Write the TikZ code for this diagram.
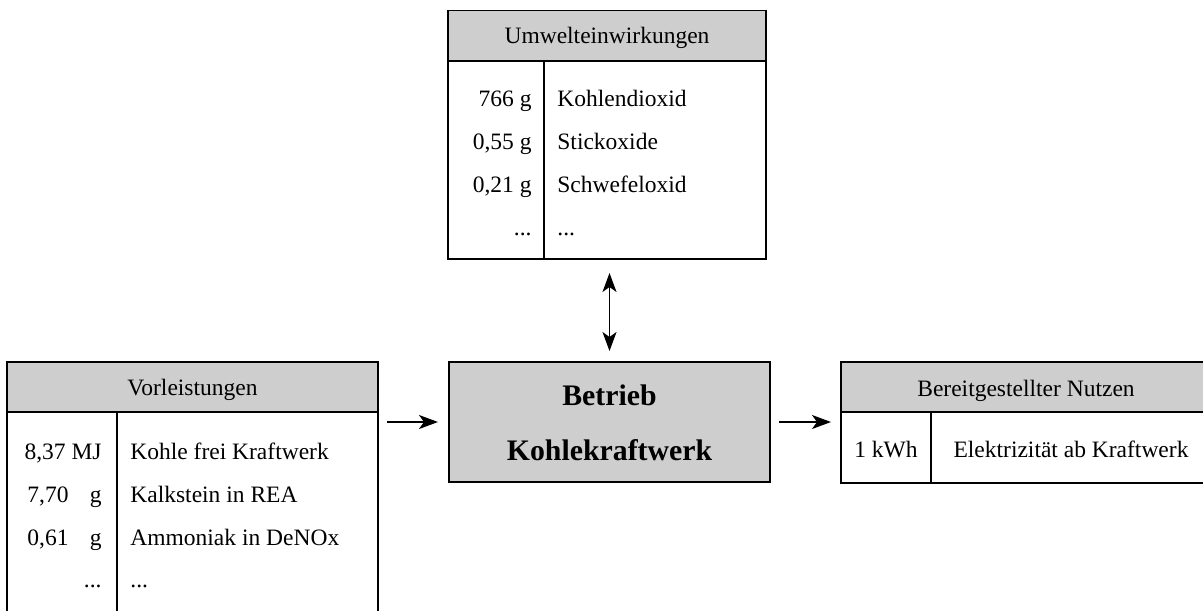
\documentclass[tikz,border=0pt]{standalone}
\usepackage{fontspec}
\setmainfont{Liberation Serif}
\usetikzlibrary{arrows.meta}
\definecolor{boxgray}{RGB}{206,206,206}
\tikzset{
  frame/.style={draw, line width=0.9pt, inner sep=0pt, outer sep=0pt},
  headbox/.style={frame, fill=boxgray, minimum height=25pt},
  bodybox/.style={frame, fill=white},
  txt/.style={inner sep=0pt, anchor=base, font=\fontsize{11.75}{14}\selectfont},
  txtl/.style={txt, anchor=base west},
  txtr/.style={txt, anchor=base east},
  bigtxt/.style={inner sep=0pt, anchor=base, font=\bfseries\fontsize{14.9}{18}\selectfont},
  tip/.tip={Stealth[length=9.5pt,width=7pt,inset=2.5pt]},
  flow/.style={line width=0.75pt, -tip},
  bothflow/.style={line width=0.75pt, tip-tip},
  sep/.style={line width=0.9pt},
}
\begin{document}
\begin{tikzpicture}[x=0.5pt,y=-0.5pt]
\useasboundingbox (0,0) rectangle (1203,610);
\clip (0,0) rectangle (1203,610);

% Umwelteinwirkungen (emissions)
\node[headbox, minimum width=159pt] (umwHead) at (607,35.5) {};
\node[bodybox, minimum width=159pt, minimum height=99pt] (umwBody) at (607,160) {};
\draw[sep] (544,61) -- (544,259);
\node[txt] (umwTitle) at (607,44) {Umwelteinwirkungen};
\node[txtr] (umwA1) at (532,106) {766 g};
\node[txtr] (umwA2) at (532,149) {0,55 g};
\node[txtr] (umwA3) at (532,192) {0,21 g};
\node[txtr] (umwA4) at (532,235) {...};
\node[txtl] (umwB1) at (557,106) {Kohlendioxid};
\node[txtl] (umwB2) at (557,149) {Stickoxide};
\node[txtl] (umwB3) at (557,192) {Schwefeloxid};
\node[txtl] (umwB4) at (557,235) {...};

% Vorleistungen (inputs)
\node[headbox, minimum width=185.5pt] (vorHead) at (192.5,387) {};
\node[bodybox, minimum width=185.5pt, minimum height=104pt] (vorBody) at (192.5,516) {};
\draw[sep] (117,412) -- (117,620);
\node[txt] (vorTitle) at (192.5,395) {Vorleistungen};
\node[txtr] (vorA1) at (102,459) {8,37 MJ};
\node[txtl] (vorA2) at (27,502) {7,70};
\node[txtr] (vorU2) at (102,502) {g};
\node[txtl] (vorA3) at (27,545) {0,61};
\node[txtr] (vorU3) at (102,545) {g};
\node[txtr] (vorA4) at (102,587) {...};
\node[txtl] (vorB1) at (130,459) {Kohle frei Kraftwerk};
\node[txtl] (vorB2) at (130,502) {Kalkstein in REA};
\node[txtl] (vorB3) at (130,545) {Ammoniak in DeNOx};
\node[txtl] (vorB4) at (130,587) {...};

% Process
\node[frame, fill=boxgray, minimum width=160.5pt, minimum height=60pt] (kraft) at (609.5,422) {};
\node[bigtxt] (kraftA) at (609.5,405) {Betrieb};
\node[bigtxt] (kraftB) at (609.5,460) {Kohlekraftwerk};

% Bereitgestellter Nutzen (output)
\node[headbox, minimum width=185pt] (nutzHead) at (1026,387) {};
\node[bodybox, minimum width=185pt, minimum height=35.5pt] (nutzBody) at (1026,447.5) {};
\draw[sep] (931,412) -- (931,483);
\node[txt] (nutzTitle) at (1026,396) {Bereitgestellter Nutzen};
\node[txt] (nutzA) at (886,457) {1 kWh};
\node[txt] (nutzB) at (1071,457) {Elektrizität ab Kraftwerk};

% Flows
\draw[flow, shorten <=4.5pt, shorten >=5.5pt] (vorHead.east |- kraft.west) -- (kraft.west);
\draw[flow, shorten <=4.5pt, shorten >=5pt] (kraft.east) -- (kraft.east -| nutzHead.west);
\draw[bothflow, shorten <=7pt, shorten >=5.5pt] (umwBody.south -| kraft.north) -- (kraft.north);
\end{tikzpicture}
\end{document}
